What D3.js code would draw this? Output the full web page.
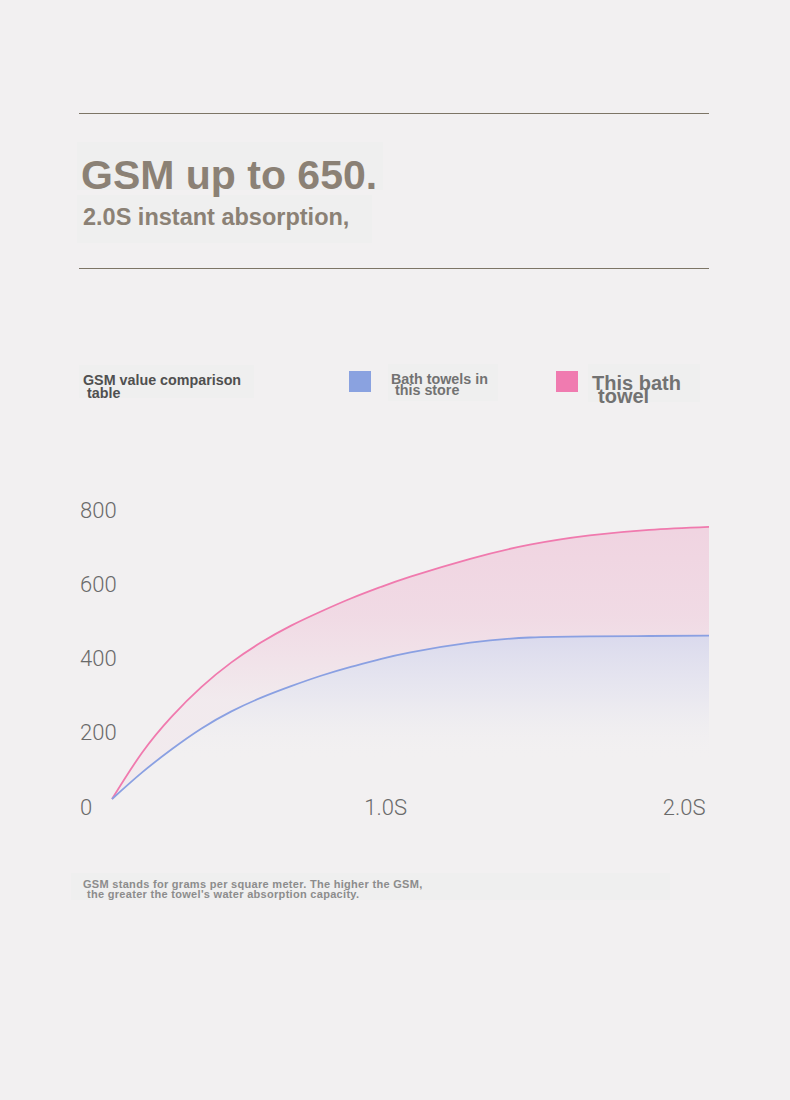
<!DOCTYPE html>
<html>
<head>
<meta charset="utf-8">
<script src="https://cdn.jsdelivr.net/npm/d3@7"></script>
<style>
  html, body { margin: 0; padding: 0; background: #f2f0f1; }
  svg { display: block; }
</style>
</head>
<body>
<div id="chart"></div>
<script>
// data (seconds vs GSM)
const times = [0, 0.1, 0.2, 0.3, 0.4, 0.5, 0.6, 0.7, 0.8, 0.9, 1.0, 1.2, 1.4, 1.6, 1.8, 2.0];
const thisTowel = [0, 124, 222, 302, 368, 422, 467, 505, 540, 571, 599, 647, 685, 710, 725, 733];
const storeTowels = [0, 71, 134, 190, 236, 273, 304, 332, 356, 377, 395, 421, 435, 438, 439, 440];
const yTicks = [0, 200, 400, 600, 800];
const xTicks = [1.0, 2.0];
const xTickLabels = ["1.0S", "2.0S"];

const W = 790, H = 1100;

// plot area
const x = d3.scaleLinear().domain([0, 2]).range([112, 709]);
const y = d3.scaleLinear().domain([0, 800]).range([799, 502]);

const svg = d3.select("#chart")
  .append("svg")
    .attr("width", W)
    .attr("height", H);

svg.append("rect").attr("width", W).attr("height", H).attr("fill", "#f2f0f1");

// header rules
svg.append("line").attr("x1", 79).attr("x2", 709).attr("y1", 113.5).attr("y2", 113.5)
  .attr("stroke", "#7d7566").attr("stroke-width", 1.2);
svg.append("line").attr("x1", 79).attr("x2", 709).attr("y1", 268.5).attr("y2", 268.5)
  .attr("stroke", "#7d7566").attr("stroke-width", 1.2);

// faint boxes behind texts
const boxes = [[77, 142, 306, 48], [77, 195, 295, 48], [79, 365, 175, 33],
               [388, 364, 110, 37], [588, 364, 112, 38], [71, 873, 599, 27]];
svg.selectAll("rect.box").data(boxes).join("rect")
  .attr("class", "box")
  .attr("x", d => d[0]).attr("y", d => d[1])
  .attr("width", d => d[2]).attr("height", d => d[3])
  .attr("fill", "#efefef");

const bold = "Liberation Sans, Arial, sans-serif";

// title
svg.append("text")
  .attr("x", 81).attr("y", 189)
  .attr("font-family", bold)
  .attr("font-weight", "bold").attr("font-size", 41)
  .attr("fill", "#8b8175")
  .text("GSM up to 650.");
svg.append("text")
  .attr("x", 83).attr("y", 225)
  .attr("font-family", bold)
  .attr("font-weight", "bold").attr("font-size", 23.5)
  .attr("fill", "#8b8175")
  .text("2.0S instant absorption,");

// legend
function lines(xp, yp, arr, size, color, lh, ls) {
  const t = svg.append("text").attr("font-family", bold).attr("font-weight", "bold")
    .attr("font-size", size).attr("fill", color).attr("letter-spacing", ls || 0);
  arr.forEach((s, i) => t.append("tspan").attr("x", xp + s[1]).attr("y", yp + i * lh).text(s[0]));
}
lines(83, 385, [["GSM value comparison", 0], ["table", 4]], 14.3, "#505050", 13);
svg.append("rect").attr("x", 349).attr("y", 371).attr("width", 22).attr("height", 21).attr("fill", "#8aa2e0");
lines(391, 384, [["Bath towels in", 0], ["this store", 4]], 14.3, "#727272", 11);
svg.append("rect").attr("x", 556).attr("y", 371).attr("width", 22).attr("height", 21).attr("fill", "#f07bb0");
lines(592, 390, [["This bath", 0], ["towel", 6]], 20, "#727272", 13);

// gradients
const defs = svg.append("defs");
const gPink = defs.append("linearGradient").attr("id", "gPink")
  .attr("gradientUnits", "userSpaceOnUse").attr("x1", 0).attr("x2", 0).attr("y1", 530).attr("y2", 700);
gPink.append("stop").attr("offset", 0).attr("stop-color", "#efc8da").attr("stop-opacity", 0.7);
gPink.append("stop").attr("offset", 0.5).attr("stop-color", "#efc8da").attr("stop-opacity", 0.55);
gPink.append("stop").attr("offset", 1).attr("stop-color", "#efc8da").attr("stop-opacity", 0.15);

const gBlue = defs.append("linearGradient").attr("id", "gBlue")
  .attr("gradientUnits", "userSpaceOnUse").attr("x1", 0).attr("x2", 0).attr("y1", 636).attr("y2", 790);
gBlue.append("stop").attr("offset", 0).attr("stop-color", "#d4d4ec").attr("stop-opacity", 0.8);
gBlue.append("stop").attr("offset", 0.4).attr("stop-color", "#dcdcee").attr("stop-opacity", 0.4);
gBlue.append("stop").attr("offset", 0.8).attr("stop-color", "#f2f0f1").attr("stop-opacity", 0);

const rows = times.map((t, i) => ({ t: t, a: thisTowel[i], b: storeTowels[i] }));
const curve = d3.curveNatural;

svg.append("path").datum(rows)
  .attr("fill", "url(#gPink)")
  .attr("d", d3.area().curve(curve).x(d => x(d.t)).y0(d => y(d.b)).y1(d => y(d.a)));
svg.append("path").datum(rows)
  .attr("fill", "url(#gBlue)")
  .attr("d", d3.area().curve(curve).x(d => x(d.t)).y0(y(0)).y1(d => y(d.b)));

svg.append("path").datum(rows)
  .attr("fill", "none").attr("stroke", "#f07aae").attr("stroke-width", 1.8)
  .attr("d", d3.line().curve(curve).x(d => x(d.t)).y(d => y(d.a)));
svg.append("path").datum(rows)
  .attr("fill", "none").attr("stroke", "#8aa0e2").attr("stroke-width", 1.8)
  .attr("d", d3.line().curve(curve).x(d => x(d.t)).y(d => y(d.b)));

// y axis (labels only)
const yAxis = svg.append("g")
  .attr("transform", "translate(80,8)")
  .call(d3.axisLeft(y).tickValues(yTicks).tickSize(0).tickFormat(d3.format("d")));
yAxis.select(".domain").remove();
yAxis.selectAll("text")
  .attr("text-anchor", "start").attr("x", 0)
  .attr("font-family", "Roboto, sans-serif").attr("font-weight", 300)
  .attr("font-size", 22).attr("fill", "#6a6a6a");

// x axis (labels only)
const xAxis = svg.append("g")
  .attr("transform", `translate(-4,${y(0) - 3})`)
  .call(d3.axisBottom(x).tickValues(xTicks).tickSize(0).tickFormat((d, i) => xTickLabels[i]));
xAxis.select(".domain").remove();
xAxis.selectAll("text")
  .attr("text-anchor", "end")
  .attr("font-family", "Roboto, sans-serif").attr("font-weight", 300)
  .attr("font-size", 22).attr("fill", "#6a6a6a");

// footnote
lines(83, 888, [["GSM stands for grams per square meter. The higher the GSM,", 0],
                ["the greater the towel's water absorption capacity.", 4]], 11, "#8c8c8c", 9.5, 0.3);
</script>
</body>
</html>
